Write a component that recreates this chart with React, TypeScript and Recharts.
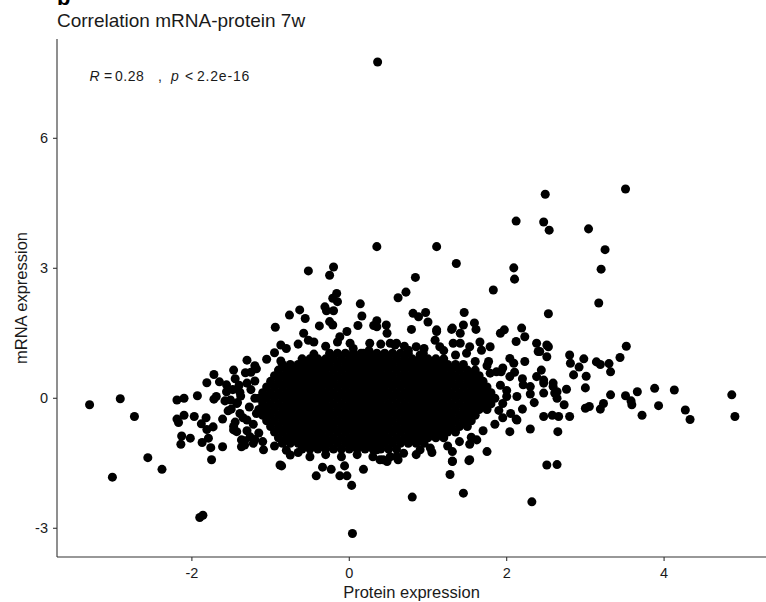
import { ScatterChart, Scatter, XAxis, YAxis, ZAxis, Label } from "recharts";

const FONT = '"Liberation Sans", Arial, Helvetica, sans-serif';

const xTicks = [-2, 0, 2, 4];
const yTicks = [-3, 0, 3, 6];

// isolated points above the cloud (protein, mRNA)
const upperOutliers: [number, number][] = [
  [0.36, 7.76], [0.35, 3.5], [1.11, 3.5], [1.36, 3.11], [2.12, 4.09], [2.09, 3.01], [2.1, 2.75],
  [1.83, 2.5], [0.84, 2.79], [0.72, 2.45], [0.62, 2.32], [-0.52, 2.94], [-0.2, 3.03], [-0.25, 2.84],
  [-0.16, 2.42], [-0.21, 2.31], [-0.15, 2.23], [2.49, 4.71], [3.51, 4.83], [2.47, 4.07], [2.54, 3.88],
  [3.04, 3.91], [3.25, 3.43], [3.2, 2.98], [3.17, 2.2], [2.53, 1.95], [3.52, 1.2],
];

// points on the upper edge of the cloud
const upperFringe: [number, number][] = [
  [-0.63, 2.04], [-0.76, 1.92], [-0.56, 1.84], [-0.31, 2.11], [-0.29, 2.02], [-0.2, 2.02], [-0.25, 1.77],
  [-0.21, 1.69], [0.14, 2.18], [0.16, 1.9], [0.11, 1.68], [-0.38, 1.67], [-0.94, 1.64], [0.35, 1.79],
  [0.47, 1.69], [0.31, 1.68], [0.81, 1.96], [0.88, 1.88], [0.97, 1.98], [1.0, 1.76], [1.46, 1.98],
  [1.45, 1.69], [1.59, 1.74], [1.31, 1.62], [1.97, 1.58], [2.19, 1.62], [0.79, 1.59], [1.11, 1.58],
  [-0.58, 1.5], [-0.52, 1.34], [-0.87, 1.23], [-0.87, 0.86], [-1.47, 0.65], [-1.32, 0.59], [-1.18, 0.68],
  [-1.3, 0.88], [0.35, 1.65], [0.48, 1.5], [0.52, 1.27], [0.58, 1.23], [0.26, 1.27], [0.18, 1.04],
  [0.01, 1.27], [-0.12, 1.42], [-0.03, 1.54], [1.61, 1.59], [1.3, 1.59], [1.41, 1.5], [1.11, 1.54],
  [0.6, 1.27], [0.75, 1.11], [0.85, 1.19], [0.94, 1.04], [1.09, 1.34], [1.15, 1.19], [1.32, 1.27],
  [1.41, 1.27], [1.53, 1.19], [1.49, 1.04], [1.66, 1.3], [1.68, 1.11], [1.79, 1.19], [1.92, 1.5],
  [2.23, 1.42], [2.12, 1.31], [2.38, 1.27], [2.51, 1.23], [2.4, 1.08], [2.51, 0.96], [2.04, 0.92],
  [2.09, 0.81], [2.23, 0.85], [1.77, 0.85], [1.87, 0.61], [2.53, 1.19], [2.42, 1.08],
  [-1.05, 0.9], [-0.95, 1.05], [-0.8, 1.15], [-0.65, 1.25], [-0.45, 1.3], [-0.3, 1.2], [-0.15, 1.3],
  [0.05, 1.15], [0.25, 1.1], [0.4, 1.25], [0.7, 1.2], [0.95, 1.15], [1.2, 1.1], [1.35, 1.0],
  [1.6, 0.85], [1.75, 0.75], [1.95, 0.7], [-1.25, 0.6], [-1.2, 0.75], [-0.45, 1.02], [0.9, 1.0],
];

// right-hand tail
const rightTail: [number, number][] = [
  [3.44, 0.94], [3.3, 0.8], [3.32, 0.61], [3.14, 0.84], [3.19, 0.78], [2.98, 0.91], [3.01, 0.51],
  [2.92, 0.72], [2.8, 1.0], [2.81, 0.81], [2.85, 0.54], [3.0, 0.24], [2.76, 0.21], [3.32, 0.08],
  [3.51, 0.06], [3.58, -0.06], [3.66, 0.15], [3.59, -0.15], [3.72, -0.39], [3.88, 0.23], [4.13, 0.19],
  [3.93, -0.17], [4.27, -0.27], [4.33, -0.49], [4.86, 0.08], [4.9, -0.42], [3.0, -0.23], [3.05, -0.19],
  [3.19, -0.25], [3.23, -0.12], [2.8, -0.42], [2.73, -0.15], [2.66, -0.42], [2.58, -0.39], [2.47, -0.42],
  [2.3, -0.71], [2.04, -0.77], [2.12, -0.48], [2.65, -0.77], [2.38, 0.5], [2.47, 0.35], [2.59, 0.35],
  [2.64, 0.15], [2.47, 0.12], [2.3, 0.27], [2.21, 0.31], [2.13, 0.04], [2.0, 0.04], [2.04, 0.5],
  [1.93, 0.61], [1.79, 0.58], [2.44, 0.65], [2.47, 0.42], [2.59, 0.27], [2.61, 0.12], [2.64, 0.0],
  [2.1, 0.6], [2.2, 0.45], [2.3, 0.1], [2.35, -0.1], [2.2, -0.25], [2.05, -0.35], [1.95, -0.45],
  [1.85, -0.6], [1.7, -0.75], [2.13, -0.5], [1.92, 0.3], [2.0, 0.18], [1.95, -0.12], [1.9, -0.28],
];

// left-hand tail
const leftTail: [number, number][] = [
  [-3.3, -0.15], [-2.91, -0.01], [-2.73, -0.42], [-2.56, -1.37], [-2.38, -1.64], [-3.01, -1.82],
  [-1.9, -2.75], [-1.86, -2.7], [-2.19, -0.04], [-2.1, 0.0], [-1.93, 0.06], [-2.19, -0.48],
  [-2.17, -0.56], [-2.1, -0.39], [-1.97, -0.42], [-1.82, -0.45], [-2.13, -0.87], [-2.02, -0.92],
  [-2.14, -1.06], [-1.87, -1.02], [-1.79, -0.92], [-1.76, -1.14], [-1.61, -1.12], [-1.73, -0.66],
  [-1.75, -1.42], [-1.88, -0.59], [-1.81, -0.72], [-1.61, -0.48], [-1.54, -0.29], [-1.72, 0.55],
  [-1.65, 0.38], [-1.81, 0.36], [-1.56, 0.31], [-1.56, 0.15], [-1.72, -0.02], [-1.69, 0.04],
  [-1.58, -0.06], [-1.39, 0.14], [-1.37, -1.12], [-1.33, -0.98], [-1.51, -0.04], [-1.43, -0.12],
  [-1.39, -0.35], [-1.3, -0.5], [-1.47, -0.73], [-1.37, -0.96], [-1.33, -1.08], [-1.45, 0.45],
  [-1.4, 0.3], [-1.48, 0.2], [-1.42, -0.1], [-1.5, -0.25], [-1.35, -0.45], [-1.45, -0.55],
  [-1.3, -0.75], [-1.38, 0.05], [-1.3, 0.35], [-1.35, -1.08], [-1.22, -1.04], [-1.09, -1.19],
  [-1.47, -0.65], [-1.43, -0.77], [-1.26, -0.89], [-1.2, 0.4], [-1.25, 0.2], [-1.2, 0.0],
  [-1.27, -0.2], [-1.18, -0.35], [-1.22, -0.6], [-1.15, -0.8],
];

// points below the cloud
const lowerTail: [number, number][] = [
  [-0.86, -1.56], [-0.42, -1.79], [-0.34, -1.59], [-0.23, -1.64], [-0.12, -1.79], [-0.03, -1.79],
  [-0.06, -1.56], [0.03, -2.01], [0.18, -1.64], [0.04, -3.12], [0.8, -2.28], [1.28, -1.76],
  [1.45, -2.19], [2.32, -2.39], [2.64, -1.53], [2.51, -1.54], [1.31, -1.46], [1.52, -1.44],
  [0.39, -1.42], [0.48, -1.46], [0.62, -1.42], [-0.75, -1.31], [0.35, -1.19], [0.43, -1.42],
  [0.52, -1.35], [1.75, -1.23], [1.53, -1.42], [1.53, -1.06], [1.62, -0.96], [1.31, -1.23],
  [1.31, -1.45], [1.03, -1.15], [0.9, -1.19], [0.69, -1.27], [0.6, -1.35], [1.55, -0.9],
  [1.4, -1.0], [1.25, -1.1], [1.05, -1.25], [0.85, -1.3], [0.3, -1.35], [0.1, -1.3], [-0.1, -1.35],
  [-0.3, -1.3], [-0.5, -1.35], [-0.65, -1.25], [-0.8, -1.2], [-0.95, -1.1], [-1.1, -1.0],
  [-1.2, -0.95], [-0.88, -1.54],
];

// the solid black core, one row per mRNA level: [mRNA, protein values]
const coreRows: [number, number[]][] = [
  [1.04, [-0.25, -0.15, -0.05, 0.05, 0.15, 0.25, 0.35, 0.45, 0.55, 0.65, 0.75]],
  [0.91, [-0.6, -0.5, -0.4, -0.3, -0.2, -0.1, 0, 0.1, 0.2, 0.3, 0.4, 0.5, 0.6, 0.7, 0.8, 0.9, 1, 1.1, 1.2]],
  [0.78, [-0.85, -0.75, -0.65, -0.55, -0.45, -0.35, -0.25, -0.15, -0.05, 0.05, 0.15, 0.25, 0.35, 0.45, 0.55, 0.65, 0.75, 0.85, 0.95, 1.05, 1.15, 1.25, 1.35, 1.45]],
  [0.65, [-0.9, -0.8, -0.7, -0.6, -0.5, -0.4, -0.3, -0.2, -0.1, 0, 0.1, 0.2, 0.3, 0.4, 0.5, 0.6, 0.7, 0.8, 0.9, 1, 1.1, 1.2, 1.3, 1.4, 1.5, 1.6]],
  [0.52, [-0.95, -0.85, -0.75, -0.65, -0.55, -0.45, -0.35, -0.25, -0.15, -0.05, 0.05, 0.15, 0.25, 0.35, 0.45, 0.55, 0.65, 0.75, 0.85, 0.95, 1.05, 1.15, 1.25, 1.35, 1.45, 1.55, 1.65]],
  [0.39, [-1, -0.9, -0.8, -0.7, -0.6, -0.5, -0.4, -0.3, -0.2, -0.1, 0, 0.1, 0.2, 0.3, 0.4, 0.5, 0.6, 0.7, 0.8, 0.9, 1, 1.1, 1.2, 1.3, 1.4, 1.5, 1.6, 1.7]],
  [0.26, [-1.05, -0.95, -0.85, -0.75, -0.65, -0.55, -0.45, -0.35, -0.25, -0.15, -0.05, 0.05, 0.15, 0.25, 0.35, 0.45, 0.55, 0.65, 0.75, 0.85, 0.95, 1.05, 1.15, 1.25, 1.35, 1.45, 1.55, 1.65, 1.75]],
  [0.13, [-1.1, -1, -0.9, -0.8, -0.7, -0.6, -0.5, -0.4, -0.3, -0.2, -0.1, 0, 0.1, 0.2, 0.3, 0.4, 0.5, 0.6, 0.7, 0.8, 0.9, 1, 1.1, 1.2, 1.3, 1.4, 1.5, 1.6, 1.7, 1.8]],
  [0.0, [-1.15, -1.05, -0.95, -0.85, -0.75, -0.65, -0.55, -0.45, -0.35, -0.25, -0.15, -0.05, 0.05, 0.15, 0.25, 0.35, 0.45, 0.55, 0.65, 0.75, 0.85, 0.95, 1.05, 1.15, 1.25, 1.35, 1.45, 1.55, 1.65, 1.75, 1.85]],
  [-0.13, [-1.1, -1, -0.9, -0.8, -0.7, -0.6, -0.5, -0.4, -0.3, -0.2, -0.1, 0, 0.1, 0.2, 0.3, 0.4, 0.5, 0.6, 0.7, 0.8, 0.9, 1, 1.1, 1.2, 1.3, 1.4, 1.5, 1.6, 1.7, 1.8]],
  [-0.26, [-1.15, -1.05, -0.95, -0.85, -0.75, -0.65, -0.55, -0.45, -0.35, -0.25, -0.15, -0.05, 0.05, 0.15, 0.25, 0.35, 0.45, 0.55, 0.65, 0.75, 0.85, 0.95, 1.05, 1.15, 1.25, 1.35, 1.45, 1.55, 1.65, 1.75]],
  [-0.39, [-1.1, -1, -0.9, -0.8, -0.7, -0.6, -0.5, -0.4, -0.3, -0.2, -0.1, 0, 0.1, 0.2, 0.3, 0.4, 0.5, 0.6, 0.7, 0.8, 0.9, 1, 1.1, 1.2, 1.3, 1.4, 1.5, 1.6]],
  [-0.52, [-1.05, -0.95, -0.85, -0.75, -0.65, -0.55, -0.45, -0.35, -0.25, -0.15, -0.05, 0.05, 0.15, 0.25, 0.35, 0.45, 0.55, 0.65, 0.75, 0.85, 0.95, 1.05, 1.15, 1.25, 1.35, 1.45, 1.55]],
  [-0.65, [-1, -0.9, -0.8, -0.7, -0.6, -0.5, -0.4, -0.3, -0.2, -0.1, 0, 0.1, 0.2, 0.3, 0.4, 0.5, 0.6, 0.7, 0.8, 0.9, 1, 1.1, 1.2, 1.3, 1.4, 1.5]],
  [-0.78, [-0.95, -0.85, -0.75, -0.65, -0.55, -0.45, -0.35, -0.25, -0.15, -0.05, 0.05, 0.15, 0.25, 0.35, 0.45, 0.55, 0.65, 0.75, 0.85, 0.95, 1.05, 1.15, 1.25, 1.35]],
  [-0.91, [-0.9, -0.8, -0.7, -0.6, -0.5, -0.4, -0.3, -0.2, -0.1, 0, 0.1, 0.2, 0.3, 0.4, 0.5, 0.6, 0.7, 0.8, 0.9, 1, 1.1, 1.2]],
  [-1.04, [-0.85, -0.75, -0.65, -0.55, -0.45, -0.35, -0.25, -0.15, -0.05, 0.05, 0.15, 0.25, 0.35, 0.45, 0.55, 0.65, 0.75, 0.85, 0.95]],
  [-1.17, [-0.6, -0.5, -0.4, -0.3, -0.2, -0.1, 0, 0.1, 0.2, 0.3, 0.4, 0.5, 0.6]],
];

const points = [
  ...coreRows.flatMap(([y, xs]) => xs.map((x) => [x, y] as [number, number])),
  ...upperFringe,
  ...rightTail,
  ...leftTail,
  ...lowerTail,
  ...upperOutliers,
].map(([x, y]) => ({ x, y }));

export default function App() {
  const axisText = { fill: "#1a1a1a", fontSize: 14.5, fontFamily: FONT };
  return (
    <div style={{ position: "absolute", left: 0, top: 0, width: 766, height: 602, background: "#fff", overflow: "hidden" }}>
      <ScatterChart width={766} height={602} margin={{ top: 39, right: 0, bottom: 0, left: 0 }}>
        <XAxis
          type="number"
          dataKey="x"
          domain={[-3.714, 5.295]}
          ticks={xTicks}
          height={45}
          tick={axisText}
          tickSize={4}
          tickMargin={7}
          axisLine={{ stroke: "#333", strokeWidth: 1.1 }}
          tickLine={{ stroke: "#333", strokeWidth: 1.1 }}
        >
          <Label value="Protein expression" position="insideBottom" offset={4}
            style={{ fill: "#1a1a1a", fontSize: 16.5, fontFamily: FONT }} />
        </XAxis>
        <YAxis
          type="number"
          dataKey="y"
          domain={[-3.663, 8.292]}
          ticks={yTicks}
          width={57}
          tick={axisText}
          tickSize={4}
          tickMargin={5}
          axisLine={{ stroke: "#333", strokeWidth: 1.1 }}
          tickLine={{ stroke: "#333", strokeWidth: 1.1 }}
        >
          <Label value="mRNA expression" position="insideLeft" angle={-90} offset={21}
            style={{ fill: "#1a1a1a", fontSize: 16.5, fontFamily: FONT, textAnchor: "middle" }} />
        </YAxis>
        <ZAxis range={[62, 62]} />
        <Scatter data={points} fill="#000" isAnimationActive={false} />
      </ScatterChart>
      <svg width={766} height={602} style={{ position: "absolute", left: 0, top: 0, pointerEvents: "none" }}>
        <text x={57} y={5} style={{ fontFamily: FONT, fontWeight: 700, fontSize: 22, fill: "#000" }}>b</text>
        <text x={57} y={27} style={{ fontFamily: FONT, fontSize: 19, fill: "#1a1a1a" }}>Correlation mRNA-protein 7w</text>
        <text y={81} style={{ fontFamily: FONT, fontSize: 14, fill: "#1a1a1a" }}>
          <tspan x={89.5} fontStyle="italic">R</tspan>
          <tspan x={104}>=</tspan>
          <tspan x={115} letterSpacing={0.5}>0.28</tspan>
          <tspan x={158}>,</tspan>
          <tspan x={171} fontStyle="italic">p</tspan>
          <tspan x={185}>&lt;</tspan>
          <tspan x={197} letterSpacing={0.8}>2.2e-16</tspan>
        </text>
      </svg>
    </div>
  );
}
